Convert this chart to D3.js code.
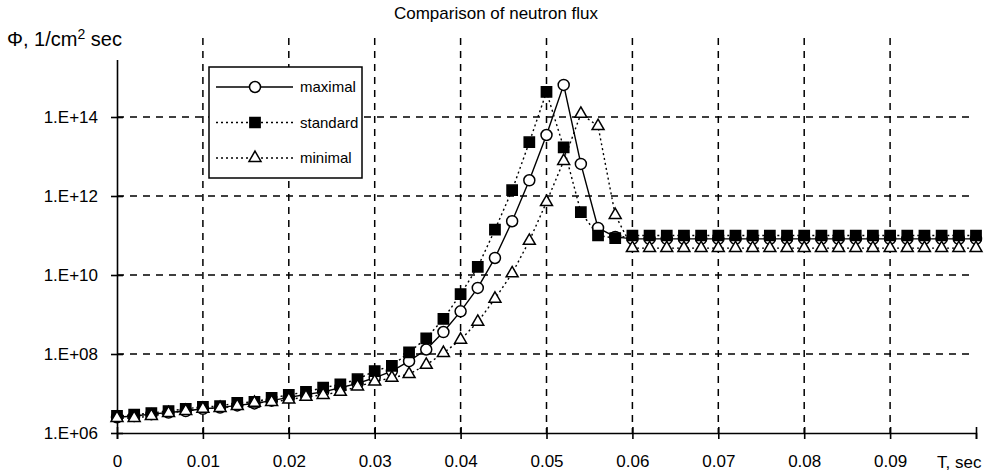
<!DOCTYPE html>
<meta charset="utf-8">
<style>
body{margin:0;background:#fff;}
text{font-family:"Liberation Sans",Arial,sans-serif;font-size:17px;fill:#000;}
.grid line{stroke:#000;stroke-width:1.5px;stroke-dasharray:7,6;}
.axis path,.axis line{stroke:#000;stroke-width:1.6px;fill:none;}
.axis text{font-size:17px;}
</style>
<body>
<script src="https://d3js.org/d3.v7.min.js"></script>
<script>
// time points, sec
var times = [0, 0.002, 0.004, 0.006, 0.008, 0.01, 0.012, 0.014, 0.016, 0.018,
  0.02, 0.022, 0.024, 0.026, 0.028, 0.03, 0.032, 0.034, 0.036, 0.038,
  0.04, 0.042, 0.044, 0.046, 0.048, 0.05, 0.052, 0.054, 0.056, 0.058,
  0.06, 0.062, 0.064, 0.066, 0.068, 0.07, 0.072, 0.074, 0.076, 0.078,
  0.08, 0.082, 0.084, 0.086, 0.088, 0.09, 0.092, 0.094, 0.096, 0.098, 0.1];

// neutron flux, 1/cm2 sec
var maximal = [2.5e6, 2.7e6, 3.0e6, 3.3e6, 3.6e6, 4.1e6, 4.4e6, 5.0e6, 5.6e6, 6.6e6,
  8.0e6, 9.4e6, 1.1e7, 1.4e7, 1.8e7, 2.5e7, 3.7e7, 6.6e7, 1.3e8, 3.6e8,
  1.2e9, 4.7e9, 2.7e10, 2.3e11, 2.5e12, 3.5e13, 6.5e14, 6.5e12, 1.55e11, 9.2e10,
  8.2e10, 8.2e10, 8.2e10, 8.2e10, 8.2e10, 8.2e10, 8.2e10, 8.2e10, 8.2e10, 8.2e10,
  8.2e10, 8.2e10, 8.2e10, 8.2e10, 8.2e10, 8.2e10, 8.2e10, 8.2e10, 8.2e10, 8.2e10, 8.2e10];
var standard = [2.7e6, 2.9e6, 3.2e6, 3.6e6, 4.1e6, 4.6e6, 4.8e6, 5.8e6, 6.1e6, 7.7e6,
  9.2e6, 1.1e7, 1.4e7, 1.7e7, 2.3e7, 3.7e7, 5.0e7, 1.1e8, 2.5e8, 7.7e8,
  3.3e9, 1.6e10, 1.4e11, 1.4e12, 2.3e13, 4.3e14, 1.7e13, 3.9e11, 1.0e11, 8.6e10,
  1.0e11, 1.0e11, 1.0e11, 1.0e11, 1.0e11, 1.0e11, 1.0e11, 1.0e11, 1.0e11, 1.0e11,
  1.0e11, 1.0e11, 1.0e11, 1.0e11, 1.0e11, 1.0e11, 1.0e11, 1.0e11, 1.0e11, 1.0e11, 1.0e11];
var minimal = [2.4e6, 2.4e6, 2.7e6, 3.2e6, 3.6e6, 4.1e6, 4.3e6, 4.8e6, 5.8e6, 6.1e6,
  7.0e6, 8.2e6, 9.2e6, 1.1e7, 1.5e7, 2.0e7, 2.5e7, 3.1e7, 5.3e7, 1.06e8,
  2.3e8, 6.5e8, 2.5e9, 1.1e10, 7.3e10, 7.0e11, 7.7e12, 1.2e14, 5.9e13, 3.3e11,
  4.8e10, 4.8e10, 4.8e10, 4.8e10, 4.8e10, 4.8e10, 4.8e10, 4.8e10, 4.8e10, 4.8e10,
  4.8e10, 4.8e10, 4.8e10, 4.8e10, 4.8e10, 4.8e10, 4.8e10, 4.8e10, 4.8e10, 4.8e10, 4.8e10];

var xTicks = [0, 0.01, 0.02, 0.03, 0.04, 0.05, 0.06, 0.07, 0.08, 0.09, 0.1];
var xTickLabels = ["0", "0.01", "0.02", "0.03", "0.04", "0.05", "0.06", "0.07", "0.08", "0.09", ""];
var yTicks = [1e6, 1e8, 1e10, 1e12, 1e14];
var yTickLabels = ["1.E+06", "1.E+08", "1.E+10", "1.E+12", "1.E+14"];

var W = 986, H = 476;
var svg = d3.select("body").append("svg").attr("width", W).attr("height", H);

var x = d3.scaleLinear().domain([0, 0.1]).range([117, 976]);
var y = d3.scaleLog().domain([1e6, 1e16]).range([433, 38]);

// grid
var grid = svg.append("g").attr("class", "grid");
grid.selectAll(".v").data(xTicks.slice(1, 10)).enter().append("line")
  .attr("x1", d => x(d)).attr("x2", d => x(d))
  .attr("y1", y(1e16)).attr("y2", y(1e6));
grid.selectAll(".h").data(yTicks.slice(1)).enter().append("line")
  .attr("x1", x(0)).attr("x2", x(0.1) - 6)
  .attr("y1", d => y(d)).attr("y2", d => y(d));

// axes
var gx = svg.append("g").attr("class", "axis").attr("transform", "translate(0," + y(1e6) + ")")
  .call(d3.axisBottom(x).tickValues(xTicks).tickFormat((d, i) => xTickLabels[i])
    .tickSizeInner(6).tickSizeOuter(6).tickPadding(16));
gx.selectAll(".tick line").attr("y1", -6).attr("y2", 6);
gx.attr("font-family", null).attr("font-size", null);

var gy = svg.append("g").attr("class", "axis").attr("transform", "translate(" + x(0) + ",0)")
  .call(d3.axisLeft(y).tickValues(yTicks).tickFormat((d, i) => yTickLabels[i])
    .tickSizeInner(6).tickSizeOuter(0).tickPadding(13));
gy.selectAll(".tick line").attr("x1", -6).attr("x2", 6);
gy.attr("font-family", null).attr("font-size", null);

// axis titles
var yt = svg.append("text").attr("x", 7).attr("y", 46).style("font-size", "20px");
yt.append("tspan").text("\u03A6, 1/cm");
yt.append("tspan").attr("dy", -7).style("font-size", "14px").text("2");
yt.append("tspan").attr("dy", 7).text(" sec");
var bb = yt.node().getBBox();
svg.insert("rect", () => yt.node()).attr("x", bb.x - 2).attr("y", bb.y - 2)
  .attr("width", bb.width + 4).attr("height", bb.height + 12).attr("fill", "#fff");

svg.append("text").attr("x", 937).attr("y", y(1e6) + 35).text("T, sec");

svg.append("text").attr("x", 496).attr("y", 19).attr("text-anchor", "middle")
  .style("font-size", "17px").text("Comparison of neutron flux");

// series
var series = [
  {name: "maximal", values: maximal, dash: null, sym: d3.symbolCircle, size: 95, fill: "#fff"},
  {name: "standard", values: standard, dash: "2,3", sym: d3.symbolSquare, size: 105, fill: "#000"},
  {name: "minimal", values: minimal, dash: "2,3", sym: d3.symbolTriangle, size: 62, fill: "#fff"}
];

var line = d3.line().x(d => x(d[0])).y(d => y(d[1]));

series.forEach(function(s) {
  var pts = times.map((t, i) => [t, s.values[i]]);
  svg.append("path").datum(pts).attr("d", line)
    .attr("fill", "none").attr("stroke", "#000").attr("stroke-width", 1.4)
    .attr("stroke-dasharray", s.dash);
  svg.append("g").selectAll("path").data(pts).enter().append("path")
    .attr("d", d3.symbol().type(s.sym).size(s.size))
    .attr("transform", d => "translate(" + x(d[0]) + "," + y(d[1]) + ")")
    .attr("fill", s.fill).attr("stroke", "#000").attr("stroke-width", 1.5);
});

// legend
var lg = svg.append("g").attr("transform", "translate(209,67)");
lg.append("rect").attr("width", 153).attr("height", 111)
  .attr("fill", "#fff").attr("stroke", "#000").attr("stroke-width", 1.5);
series.forEach(function(s, i) {
  var ly = 20 + i * 35.5;
  lg.append("line").attr("x1", 7).attr("x2", 84).attr("y1", ly).attr("y2", ly)
    .attr("stroke", "#000").attr("stroke-width", 1.4).attr("stroke-dasharray", s.dash);
  lg.append("path").attr("d", d3.symbol().type(s.sym).size(s.size))
    .attr("transform", "translate(46," + ly + ")")
    .attr("fill", s.fill).attr("stroke", "#000").attr("stroke-width", 1.5);
  lg.append("text").attr("x", 91).attr("y", ly).attr("dy", "0.35em")
    .style("font-size", "15px").text(s.name);
});
</script>
</body>
